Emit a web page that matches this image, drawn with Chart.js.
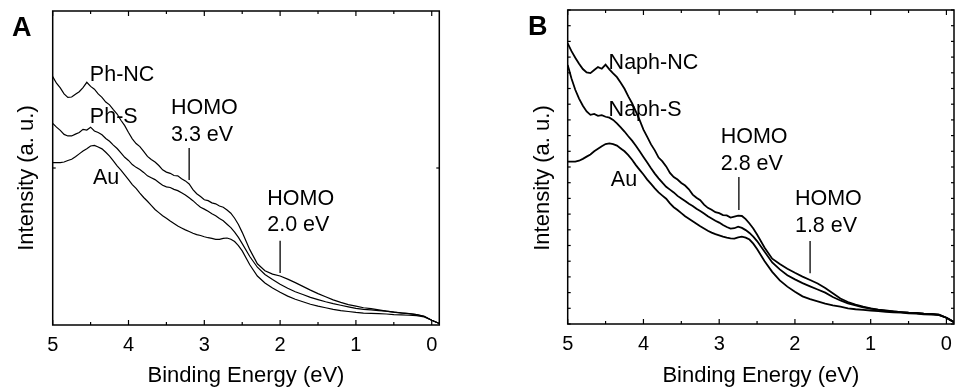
<!DOCTYPE html>
<html lang="en">
<head>
<meta charset="UTF-8">
<title>UPS spectra - Ph / Naph on Au</title>
<script src="https://cdn.jsdelivr.net/npm/chart.js"></script>
<style>
  html, body { margin: 0; padding: 0; background: #fff; }
  #wrap { position: relative; width: 956px; height: 389px; }
  .panel { position: absolute; top: 0; width: 478px; height: 389px; }
  #panelA { left: 0; }
  #panelB { left: 478px; }
</style>
</head>
<body>
<div id="wrap">
  <div class="panel" id="panelA"><canvas id="chartA"></canvas></div>
  <div class="panel" id="panelB"><canvas id="chartB"></canvas></div>
</div>
<script>
// binding energy (eV), shared by every spectrum
const energy = [5.0, 4.95, 4.9, 4.85, 4.8, 4.75, 4.7, 4.65, 4.6, 4.55, 4.5, 4.45, 4.4, 4.35, 4.3, 4.25, 4.2, 4.15, 4.1, 4.05,
  4.0, 3.95, 3.9, 3.85, 3.8, 3.75, 3.7, 3.65, 3.6, 3.55, 3.5, 3.45, 3.4, 3.35, 3.3, 3.25, 3.2, 3.15, 3.1, 3.05,
  3.0, 2.95, 2.9, 2.85, 2.8, 2.75, 2.7, 2.65, 2.6, 2.55, 2.5,
  2.4, 2.3, 2.2, 2.1, 2.0, 1.9, 1.8, 1.7, 1.6, 1.5, 1.4, 1.3, 1.2, 1.1,
  1.0, 0.9, 0.8, 0.7, 0.6, 0.5, 0.4, 0.3, 0.2, 0.1, 0.0, -0.1];

// panel A
const phNC = [79.1, 77.0, 75.5, 73.6, 72.5, 72.6, 73.5, 74.3, 75.6, 77.3, 76.0, 75.1, 73.6, 72.5, 71.0, 70.1, 68.6, 67.2, 65.2, 63.5,
  61.3, 59.3, 57.8, 56.8, 55.3, 53.7, 52.7, 51.9, 50.8, 49.4, 48.7, 48.3, 47.6, 47.5, 46.6, 45.9, 44.9, 43.1, 41.8, 40.9,
  39.9, 39.6, 38.9, 38.6, 37.9, 37.5, 36.6, 35.6, 34.0, 32.0, 29.5,
  24.0, 19.5, 17.3, 16.2, 15.6, 14.6, 13.5, 12.3, 11.1, 10.0, 9.0, 8.0, 7.2, 6.5,
  6.0, 5.5, 5.2, 4.8, 4.4, 4.1, 3.8, 3.6, 3.3, 2.8, 1.5, 0.5];
const phS = [64.2, 63.0, 62.0, 60.7, 60.2, 60.2, 60.8, 61.3, 62.3, 62.1, 63.0, 61.8, 61.3, 60.6, 59.4, 58.5, 57.3, 56.2, 54.8, 53.4,
  52.4, 51.1, 50.2, 49.5, 48.6, 47.5, 46.9, 46.3, 45.4, 44.5, 44.0, 43.8, 43.2, 42.8, 42.1, 41.4, 40.5, 39.6, 38.5, 37.5,
  36.9, 36.2, 35.4, 34.8, 33.9, 33.2, 32.1, 31.0, 29.6, 27.9, 25.9,
  21.8, 18.4, 16.1, 14.5, 13.0, 11.7, 10.6, 9.7, 8.8, 8.1, 7.4, 6.8, 6.3, 5.8,
  5.3, 5.0, 4.8, 4.6, 4.4, 4.1, 3.9, 3.6, 3.3, 2.8, 1.5, 0.5];
const auA = [51.7, 51.7, 51.7, 51.9, 52.4, 52.8, 53.6, 54.5, 55.4, 56.1, 57.0, 57.2, 56.7, 56.1, 55.0, 53.8, 52.3, 50.7, 49.3, 47.8,
  46.3, 44.7, 43.5, 42.0, 40.6, 39.4, 38.1, 36.8, 35.8, 34.8, 34.0, 33.1, 32.3, 31.5, 30.9, 30.3, 29.8, 29.2, 28.8, 28.5,
  28.1, 27.8, 27.6, 27.3, 27.3, 27.6, 27.7, 27.3, 26.6, 25.3, 23.6,
  19.2, 15.6, 13.4, 11.8, 10.4, 9.2, 8.2, 7.4, 6.6, 6.0, 5.5, 5.0, 4.6, 4.3,
  4.0, 3.8, 3.7, 3.6, 3.5, 3.3, 3.2, 3.1, 3.0, 2.6, 1.5, 0.5];

// panel B
const naphNC = [89.4, 86.9, 84.8, 82.9, 81.2, 80.1, 79.9, 80.9, 81.8, 81.3, 82.6, 81.1, 79.8, 78.6, 76.8, 74.9, 72.5, 70.3, 67.6, 64.9,
  61.9, 59.6, 57.2, 55.3, 53.0, 51.8, 50.2, 48.1, 46.8, 46.0, 44.9, 44.1, 42.9, 41.2, 40.2, 39.4, 38.0, 37.0, 36.4, 35.6,
  35.3, 34.7, 34.6, 33.9, 34.2, 34.5, 34.4, 33.4, 32.0, 30.4, 28.5,
  24.3, 20.8, 19.1, 17.6, 16.3, 15.1, 14.0, 12.9, 11.5, 9.8, 8.1, 7.0, 6.2, 5.5,
  5.0, 4.6, 4.3, 4.0, 3.8, 3.6, 3.5, 3.3, 3.2, 3.0, 2.0, 0.6];
const naphS = [82.5, 78.2, 74.6, 71.8, 69.5, 67.7, 66.6, 66.9, 66.3, 66.5, 66.0, 65.7, 65.0, 63.9, 62.6, 61.3, 59.8, 58.4, 56.8, 55.0,
  53.2, 51.4, 49.6, 47.9, 46.4, 45.0, 43.7, 42.8, 41.9, 40.8, 40.0, 39.2, 38.3, 37.6, 36.7, 36.0, 35.2, 34.3, 33.6, 32.9,
  32.3, 31.5, 30.9, 30.4, 30.5, 31.0, 30.6, 29.9, 29.0, 27.8, 26.4,
  23.0, 19.6, 17.4, 15.5, 14.2, 13.0, 12.0, 11.0, 10.0, 8.6, 7.5, 6.6, 5.9, 5.3,
  4.9, 4.5, 4.2, 4.0, 3.8, 3.6, 3.5, 3.3, 3.2, 3.0, 2.0, 0.6];
const auB = [51.7, 51.7, 51.7, 52.0, 52.6, 53.3, 54.0, 55.0, 55.8, 56.6, 57.3, 57.5, 57.3, 56.8, 55.9, 55.0, 53.8, 52.3, 50.6, 49.1,
  47.6, 46.0, 44.6, 43.2, 41.9, 40.9, 39.9, 38.4, 37.2, 36.3, 35.3, 34.3, 33.5, 32.7, 31.9, 31.1, 30.4, 29.7, 29.1, 28.6,
  28.2, 27.8, 27.5, 27.3, 27.2, 27.6, 27.8, 27.5, 26.9, 25.6, 23.9,
  20.0, 16.6, 13.9, 11.9, 10.3, 8.8, 7.9, 7.2, 6.5, 5.9, 5.5, 5.0, 4.7, 4.5,
  4.3, 4.1, 3.9, 3.7, 3.6, 3.4, 3.3, 3.1, 3.0, 2.8, 2.0, 0.6];

// HOMO marker lines: energy, top, bottom (intensity units)
const homoA = [[3.2, 56.4, 46.2], [2.0, 26.8, 16.6]];
const homoB = [[2.74, 46.8, 36.3], [1.8, 26.4, 16.2]];

const xTickValues = [0, 0.5, 1, 1.5, 2, 2.5, 3, 3.5, 4, 4.5, 5];
const yTicksA = [50];
const yTicksB = [0, 5, 10, 15, 20, 25, 30, 35, 40, 45, 50, 55, 60, 65, 70, 75, 80, 85, 90, 95, 100];

const notesA = [
  { text: 'Ph-NC', x: 4.51, y: 79.6 },
  { text: 'Ph-S', x: 4.51, y: 66.2 },
  { text: 'Au', x: 4.47, y: 46.8 },
  { text: 'HOMO', x: 3.44, y: 69.1 },
  { text: '3.3 eV', x: 3.44, y: 60.5 },
  { text: 'HOMO', x: 2.17, y: 40.1 },
  { text: '2.0 eV', x: 2.17, y: 31.8 }
];
const notesB = [
  { text: 'Naph-NC', x: 4.46, y: 83.1 },
  { text: 'Naph-S', x: 4.46, y: 68.2 },
  { text: 'Au', x: 4.43, y: 45.9 },
  { text: 'HOMO', x: 2.98, y: 59.6 },
  { text: '2.8 eV', x: 2.98, y: 51.0 },
  { text: 'HOMO', x: 2.0, y: 39.8 },
  { text: '1.8 eV', x: 2.0, y: 31.2 }
];

const FONT = '"Liberation Sans", Arial, Helvetica, sans-serif';

// frame, inward ticks, labels, panel letter and y title
const framePlugin = {
  id: 'frame',
  afterDatasetsDraw(chart, args, opts) {
    const { ctx, chartArea: a, scales: { x, y } } = chart;
    const seg = (x1, y1, x2, y2) => { ctx.beginPath(); ctx.moveTo(x1, y1); ctx.lineTo(x2, y2); ctx.stroke(); };
    ctx.save();
    ctx.strokeStyle = '#000';
    ctx.lineWidth = 1.5;
    ctx.strokeRect(a.left, a.top, a.right - a.left, a.bottom - a.top);
    ctx.lineWidth = 1.2;
    xTickValues.forEach(v => {
      const px = x.getPixelForValue(v);
      const len = Number.isInteger(v) ? 5 : 3;
      seg(px, a.bottom, px, a.bottom - len);
      seg(px, a.top, px, a.top + len);
    });
    opts.yTicks.forEach(v => {
      const py = y.getPixelForValue(v);
      seg(a.left, py, a.left + 3, py);
      seg(a.right, py, a.right - 3, py);
    });

    ctx.fillStyle = '#000';
    ctx.textBaseline = 'middle';
    ctx.textAlign = 'left';
    ctx.font = '21.5px ' + FONT;
    opts.notes.forEach(n => ctx.fillText(n.text, x.getPixelForValue(n.x), y.getPixelForValue(n.y)));

    ctx.font = 'bold 27px ' + FONT;
    ctx.fillText(opts.letter, opts.letterX, opts.letterY);

    ctx.translate(opts.titleX, opts.titleY);
    ctx.rotate(-Math.PI / 2);
    ctx.textAlign = 'center';
    ctx.font = '22px ' + FONT;
    ctx.fillText('Intensity (a. u.)', 0, 0);
    ctx.restore();
  }
};

function makeChart(id, series, widths, homo, cfg) {
  const datasets = series.map(s => ({
    data: energy.map((e, i) => ({ x: e, y: s[i] })),
    borderColor: '#000',
    borderWidth: widths,
    pointRadius: 0,
    tension: 0,
    fill: false
  }));
  homo.forEach(h => datasets.push({
    data: [{ x: h[0], y: h[1] }, { x: h[0], y: h[2] }],
    borderColor: '#000',
    borderWidth: 1.3,
    pointRadius: 0
  }));

  return new Chart(document.getElementById(id), {
    type: 'line',
    data: { datasets },
    options: {
      responsive: true,
      maintainAspectRatio: false,
      animation: false,
      layout: { padding: cfg.padding },
      plugins: {
        legend: { display: false },
        tooltip: { enabled: false },
        frame: cfg.frame
      },
      scales: {
        x: {
          type: 'linear',
          reverse: true,
          min: -0.1,
          max: 5.0,
          grid: { display: false, drawTicks: false },
          border: { display: false },
          afterBuildTicks: s => { s.ticks = xTickValues.map(v => ({ value: v })); },
          afterFit: s => { s.height = cfg.axisHeight; },
          ticks: {
            autoSkip: false,
            maxRotation: 0,
            padding: 8,
            color: '#000',
            font: { family: FONT, size: 20 },
            callback: v => Number.isInteger(v) ? String(v) : ''
          },
          title: {
            display: true,
            text: 'Binding Energy (eV)',
            color: '#000',
            padding: 0,
            font: { family: FONT, size: 22 }
          }
        },
        y: { display: false, min: 0, max: 100 }
      }
    },
    plugins: [framePlugin]
  });
}

makeChart('chartA', [phNC, phS, auA], 1.2, homoA, {
  padding: { left: 52.7, top: 11, right: 38.7, bottom: 0 },
  axisHeight: 64,
  frame: { yTicks: yTicksA, notes: notesA, letter: 'A', letterX: 12, letterY: 29, titleX: 27, titleY: 178 }
});

makeChart('chartB', [naphNC, naphS, auB], 1.8, homoB, {
  padding: { left: 89.7, top: 10, right: 2, bottom: 0 },
  axisHeight: 65,
  frame: { yTicks: yTicksB, notes: notesB, letter: 'B', letterX: 50, letterY: 28, titleX: 65, titleY: 178 }
});
</script>
</body>
</html>
